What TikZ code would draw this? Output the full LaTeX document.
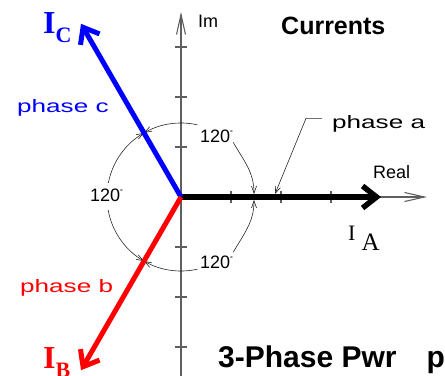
\documentclass[tikz,border=0pt]{standalone}
\usepackage{fontspec}
\setmainfont{Liberation Sans}
\newfontfamily\timesfont{Liberation Serif}
\newfontfamily\cadfont[FakeStretch=1.45]{Liberation Sans}
\usepackage{xcolor}
\usetikzlibrary{arrows.meta}
\definecolor{axisgray}{RGB}{95,95,95}
\newcommand{\degmark}{\raisebox{7bp}{\fontsize{7bp}{7bp}\selectfont\textdegree}}

\begin{document}
\begin{tikzpicture}[x=1bp, y=1bp,
    axisline/.style={draw=axisgray, line width=1.1bp},
    axistip/.tip={Straight Barb[length=20bp,width=9bp]},
    headtip/.tip={Straight Barb[length=14bp,width=22bp]},
    smalltip/.tip={Straight Barb[length=7bp,width=5bp]},
    phasor/.style={line width=#1, -headtip},
    dimline/.style={draw=black!85, line width=0.6bp},
    txt/.style={inner sep=0pt, anchor=base west},
    cadtxt/.style={txt, font=\cadfont\fontsize{18bp}{18bp}\selectfont},
    numtxt/.style={txt, font=\fontsize{18bp}{18bp}\selectfont},
    bigI/.style={txt, font=\timesfont\bfseries\fontsize{32bp}{32bp}\selectfont}]
    \useasboundingbox (-181,-178) rectangle (264,197);

    \coordinate (O) at (0,0);
    \coordinate (xend) at (246,0);
    \coordinate (ytop) at (0,185);
    \coordinate (ybot) at (0,-185);
    \coordinate (IA) at (200,0);
    \coordinate (IC) at (120:200);
    \coordinate (IB) at (240:200);
    \coordinate (ta) at (73,3);
    \coordinate (tb) at (73,-3);
    \coordinate (pa) at (94,3);

    % axes
    \draw[axisline,-axistip] (O) -- (xend);
    \draw[axisline,-axistip] (ybot) -- (ytop);
    \foreach \t in {50,100,150} {
        \draw[axisline] (\t,-6) -- (\t,6);
        \draw[axisline] (-6,\t) -- (6,\t);
        \draw[axisline] (-6,-\t) -- (6,-\t);
    }
    \node[numtxt] (im) at (17,170) {Im};
    \node[numtxt] (re) at (192,19) {Real};

    % labels
    \node[txt, font=\bfseries\fontsize{25bp}{25bp}\selectfont] (cur) at (100,163) {Currents};
    \node[txt, font=\bfseries\fontsize{30bp}{30bp}\selectfont] (ttl) at (37,-170) {3-Phase Pwr\hspace{30bp}p};
    \node[numtxt] (a120) at (19,55) {120\degmark};
    \node[numtxt] (b120) at (-91,-4) {120\degmark};
    \node[numtxt] (c120) at (19,-71) {120\degmark};
    \node[cadtxt] (pha) at (151,69) {phase a};
    \node[cadtxt, blue] (phc) at (-164,85) {phase c};
    \node[cadtxt, red] (phb) at (-161,-95) {phase b};
    \node[bigI, blue] (lc) at (-138,164) {I\raisebox{-9bp}{\fontsize{22bp}{22bp}\selectfont C}};
    \node[bigI, red] (lb) at (-138,-171) {I\raisebox{-9bp}{\fontsize{22bp}{22bp}\selectfont B}};
    \node[txt, font=\timesfont\fontsize{22bp}{22bp}\selectfont] (la) at (167,-43) {I\hspace{6bp}\raisebox{-10bp}{\fontsize{25bp}{25bp}\selectfont A}};

    % angle marks
    \draw[dimline,-smalltip] (77:74) arc[start angle=77, end angle=120, radius=74];
    \draw[dimline,-smalltip] (169:74) arc[start angle=169, end angle=120, radius=74];
    \draw[dimline,-smalltip] (190:74) arc[start angle=190, end angle=240, radius=74];
    \draw[dimline,-smalltip] (283:74) arc[start angle=283, end angle=240, radius=74];

    % phasors
    \draw[phasor=5.5bp] (O) -- (IA);
    \draw[phasor=5bp, blue] (O) -- (IC);
    \draw[phasor=5bp, red] (O) -- (IB);

    % leaders
    \draw[dimline,-smalltip] (a120.south east) to[out=-60, in=90] (ta);
    \draw[dimline,-smalltip] ([yshift=3bp]c120.north east) to[out=60, in=-90] (tb);
    \draw[dimline,-smalltip] ([shift={(-10bp,5bp)}]pha.west) -- ++(-16,0) -- (pa);
\end{tikzpicture}
\end{document}
